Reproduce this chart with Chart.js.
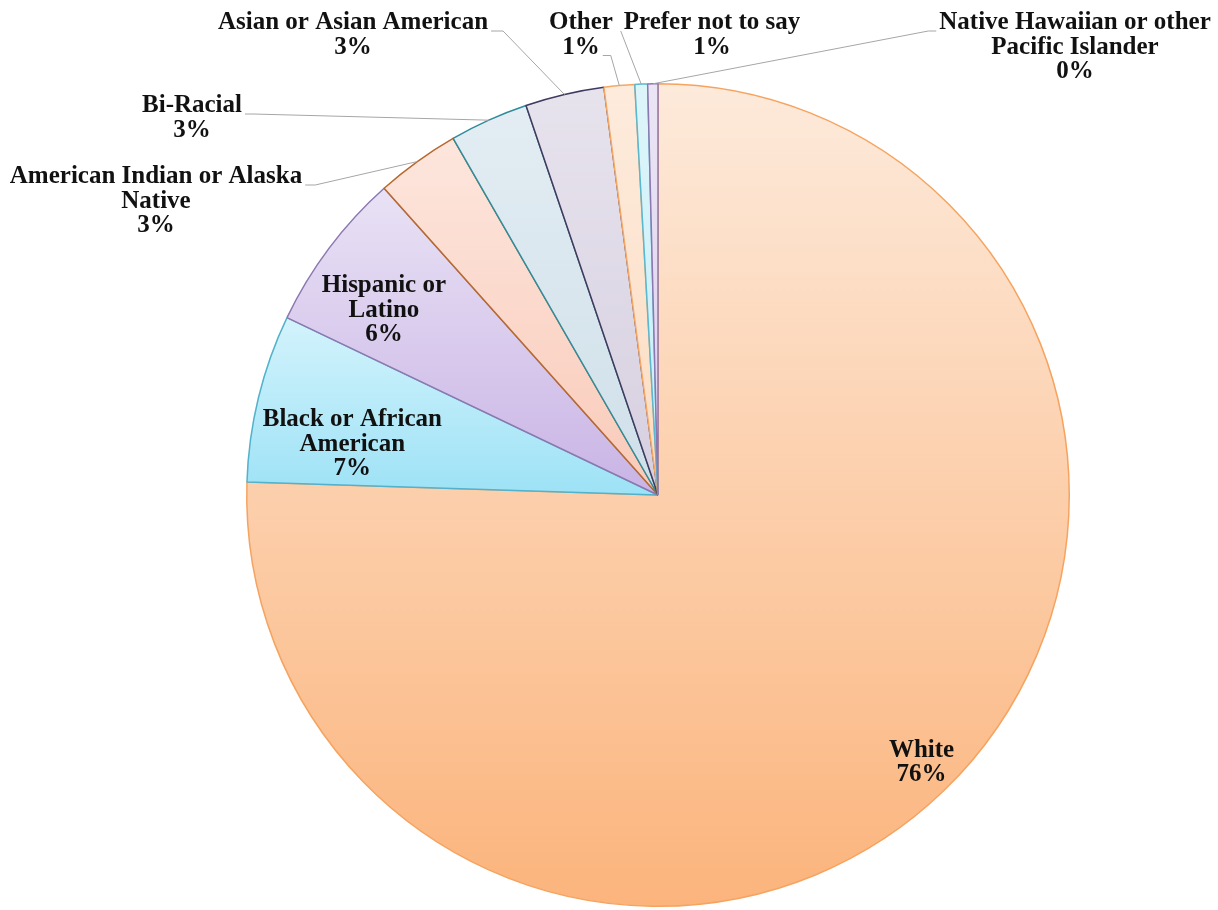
<!DOCTYPE html>
<html>
<head>
<meta charset="utf-8">
<script src="https://cdn.jsdelivr.net/npm/chart.js@4.4.0/dist/chart.umd.min.js"></script>
<style>
html, body { margin: 0; padding: 0; background: #fff; }
canvas { display: block; }
</style>
</head>
<body>
<canvas id="grafico" width="1218" height="910"></canvas>
<script>
const categorias = ['White', 'Black or African American', 'Hispanic or Latino', 'American Indian or Alaska Native', 'Bi-Racial', 'Asian or Asian American', 'Other', 'Prefer not to say', 'Native Hawaiian or other Pacific Islander'];
const porcentajes = [75.5, 6.6, 6.3, 3.3, 3.1, 3.1, 1.2, 0.5, 0.4];
const lineasEtiqueta = [
  ['White'],
  ['Black or African', 'American'],
  ['Hispanic or', 'Latino'],
  ['American Indian or Alaska', 'Native'],
  ['Bi-Racial'],
  ['Asian or Asian American'],
  ['Other'],
  ['Prefer not to say'],
  ['Native Hawaiian or other', 'Pacific Islander']
];

// colores: arriba / abajo del degradado y borde
const colorArriba = ['#fdeadb', '#d3f3fc', '#e9e2f5', '#fde6dd', '#e3edf3', '#e7e3ed', '#fdebdc', '#ddf5fa', '#ebe5f5'];
const colorAbajo = ['#fbb47c', '#9de2f6', '#c9b4e5', '#f9cab9', '#cfdfe9', '#d6cfe0', '#fcdcc2', '#c5eef8', '#dcd0ee'];
const colorBorde = ['#f6a35f', '#52b2cb', '#8c78b0', '#b8682c', '#2f8b9b', '#3f3a5e', '#f5a766', '#59b7cf', '#8c78b0'];

// posicion de etiquetas: dentro = fraccion del radio (+ ajuste dx/dy); si no, x/y del centro de la primera linea
const posEtiquetas = [
  { dentro: 0.9, dx: 6, dy: 2 },
  { dentro: 0.75, dx: -6, dy: 22 },
  { dentro: 0.8, dx: -11, dy: 13 },
  { x: 156, y: 177, lado: 'der', linea: 0, codo: 10 },
  { x: 192, y: 106, lado: 'der', linea: 0, codo: 8 },
  { x: 353, y: 23, lado: 'der', linea: 0, codo: 12 },
  { x: 581, y: 23, lado: 'der', linea: 1, codo: 8 },
  { x: 712, y: 23, lado: 'izq', linea: 0, codo: 0 },
  { x: 1075, y: 23, lado: 'izq', linea: 0, codo: 8 }
];

const fuente = 'bold 25px "Liberation Serif", "DejaVu Serif", serif';
const interlineado = 24.5;

const degradados = {
  id: 'degradados',
  beforeDatasetsDraw(chart) {
    const ctx = chart.ctx;
    const meta = chart.getDatasetMeta(0);
    meta.data.forEach((arc, i) => {
      const p = arc.getProps(['x', 'y', 'startAngle', 'endAngle', 'outerRadius']);
      let ys = [p.y, p.y + p.outerRadius * Math.sin(p.startAngle), p.y + p.outerRadius * Math.sin(p.endAngle)];
      [-Math.PI / 2, Math.PI / 2, 3 * Math.PI / 2].forEach(a => {
        if (a >= p.startAngle && a <= p.endAngle) ys.push(p.y + p.outerRadius * Math.sin(a));
      });
      const y0 = Math.min(...ys), y1 = Math.max(...ys);
      const g = ctx.createLinearGradient(0, y0, 0, y1);
      g.addColorStop(0, colorArriba[i]);
      g.addColorStop(1, colorAbajo[i]);
      arc.options.backgroundColor = g;
    });
  }
};

const etiquetas = {
  id: 'etiquetas',
  afterDatasetsDraw(chart) {
    const ctx = chart.ctx;
    const meta = chart.getDatasetMeta(0);
    ctx.save();
    ctx.font = fuente;
    ctx.fillStyle = '#111';
    ctx.textAlign = 'center';
    ctx.textBaseline = 'middle';
    meta.data.forEach((arc, i) => {
      const p = arc.getProps(['x', 'y', 'startAngle', 'endAngle', 'outerRadius']);
      const mid = (p.startAngle + p.endAngle) / 2;
      const lineas = lineasEtiqueta[i].concat([Math.round(porcentajes[i]) + '%']);
      const pos = posEtiquetas[i];
      let cx, y1;
      if (pos.dentro) {
        const r = p.outerRadius * pos.dentro;
        cx = p.x + r * Math.cos(mid) + pos.dx;
        y1 = p.y + r * Math.sin(mid) + pos.dy - (lineas.length - 1) / 2 * interlineado;
      } else {
        cx = pos.x;
        y1 = pos.y;
        // linea guia
        const w = ctx.measureText(lineas[pos.linea]).width;
        const ly = y1 + pos.linea * interlineado + 8;
        const sx = pos.lado === 'der' ? cx + w / 2 + 3 : cx - w / 2 - 3;
        const ex = pos.lado === 'der' ? sx + pos.codo : sx - pos.codo;
        ctx.beginPath();
        ctx.strokeStyle = '#a6a6a6';
        ctx.lineWidth = 1;
        ctx.moveTo(sx, ly);
        ctx.lineTo(ex, ly);
        ctx.lineTo(p.x + p.outerRadius * Math.cos(mid), p.y + p.outerRadius * Math.sin(mid));
        ctx.stroke();
      }
      lineas.forEach((t, k) => {
        ctx.fillText(t, cx, y1 + k * interlineado);
      });
    });
    ctx.restore();
  }
};

new Chart(document.querySelector('#grafico').getContext('2d'), {
  type: 'pie',
  data: {
    labels: categorias,
    datasets: [{
      data: porcentajes,
      backgroundColor: colorAbajo,
      borderColor: colorBorde,
      borderWidth: 1.5
    }]
  },
  options: {
    responsive: false,
    animation: false,
    layout: { padding: { left: 246, right: 148, top: 83, bottom: 3 } },
    plugins: {
      legend: { display: false },
      tooltip: { enabled: false }
    }
  },
  plugins: [degradados, etiquetas]
});
</script>
</body>
</html>
